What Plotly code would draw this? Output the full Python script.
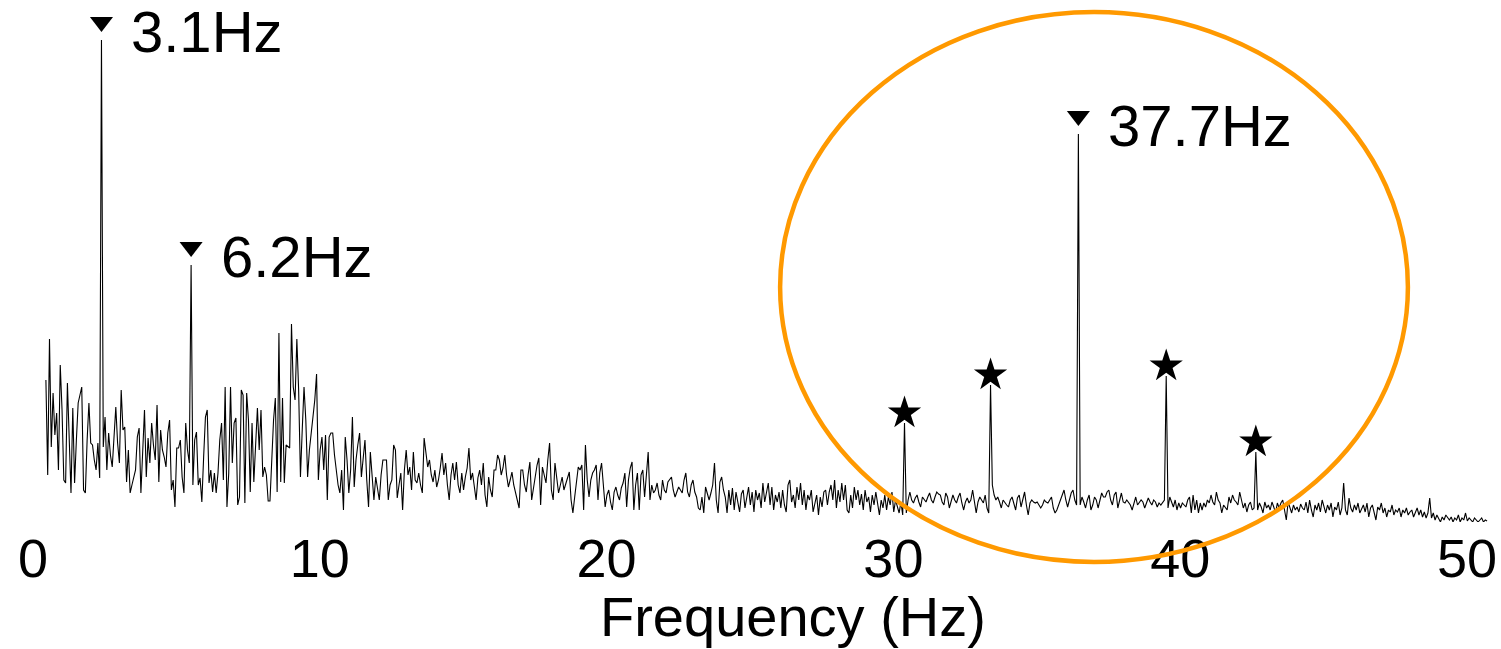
import plotly.graph_objects as go

# ---------------- data (amplitude in arbitrary units, frequency bins in Hz) ----------------
f_start = 0.45
f_step = 0.0625

amp_seg1 = [150, 55, 191, 83, 137, 95, 117, 60, 165, 120,
            50, 47, 147, 90, 37, 122, 47, 90, 127, 135,
            143, 40, 37, 90, 127, 87, 85, 70, 60, 87,
            52, 490, 83, 113, 60, 97, 75, 63, 100, 123,
            87, 67, 140, 100, 103, 48, 80, 37, 45, 52,
            60, 93, 102, 37, 80, 120, 53, 92, 67, 107,
            85, 70, 125, 48, 100, 80, 73, 63, 97, 110,
            40, 50, 23, 82, 82, 90, 53, 37, 107, 80,
            67, 265, 45, 90, 98, 45, 52, 28, 73, 113,
            120, 47, 60, 38, 57, 37, 57, 90, 107, 50]
amp_seg2 = [143, 23, 57, 143, 67, 107, 112, 25, 33, 140,
            135, 27, 137, 110, 38, 107, 48, 90, 122, 80,
            120, 53, 63, 55, 29, 29, 73, 110, 132, 38,
            197, 48, 132, 47, 85, 83, 82, 206, 143, 130,
            191, 140, 53, 100, 143, 110, 53, 80, 95, 110,
            130, 156, 50, 80, 93, 60, 95, 30, 93, 97,
            97, 75, 60, 45, 37, 60, 20, 93, 70, 37,
            60, 113, 43, 70, 85, 97, 53, 70, 90, 50,
            23, 78, 55, 30, 53, 40, 30, 55, 70, 70,
            70, 30, 45, 50, 85, 80, 32, 45, 57, 20]
amp_seg3 = [60, 80, 55, 63, 40, 78, 50, 47, 57, 45,
            37, 92, 75, 63, 70, 55, 48, 60, 43, 50,
            62, 77, 55, 67, 45, 30, 55, 67, 50, 68,
            45, 37, 57, 40, 53, 62, 82, 50, 57, 40,
            30, 52, 60, 45, 67, 35, 23, 53, 40, 33,
            60, 60, 75, 70, 55, 62, 75, 55, 43, 50,
            58, 45, 37, 30, 22, 60, 60, 45, 38, 55,
            68, 30, 42, 50, 65, 72, 25, 63, 55, 47,
            70, 87, 40, 30, 67, 50, 37, 45, 53, 40,
            47, 52, 58, 30, 17, 33, 48, 63, 60, 65,
            20, 85, 50, 33, 50, 57, 60, 65, 30]
amp_seg4 = [57, 67, 45, 23, 35, 40, 28, 20, 38, 43,
            35, 30, 42, 47, 57, 23, 50, 62, 68, 20,
            45, 57, 20, 55, 60, 33, 55, 78, 30, 45,
            37, 40, 47, 35, 30, 50, 40, 37, 48, 50,
            53, 40, 33, 38, 43, 40, 37, 50, 57, 38,
            33, 45, 50, 38, 33, 22, 20, 33, 17, 43,
            35, 30, 37, 45, 67, 30, 17, 48, 53, 40,
            33, 17, 40, 25, 42, 20, 38, 28, 18, 36,
            40, 22, 33, 43, 25, 38, 18, 40, 30, 37,
            22, 47, 28, 38, 47, 25, 43, 20, 35, 28,
            38, 22, 40, 25, 18, 45, 50, 28, 35, 22,
            43, 30, 47, 25, 40, 20, 35, 30, 40, 18,
            27, 35, 15, 33, 23, 38, 40, 25, 38, 45,
            30, 50, 22, 40, 28, 47, 30, 45, 20, 17,
            35, 22, 43, 30, 40, 25, 36, 20, 40, 28,
            33, 18, 35, 25, 38, 27, 15, 30, 22, 35,
            20, 33, 25, 38, 18, 30, 22, 17, 28, 15]
amp_seg5 = [107,
            17, 30, 38, 30, 27, 32, 35, 28, 23, 33,
            30, 28, 33, 37, 30, 27, 33, 38, 36, 35,
            28, 25, 37, 33, 22, 30, 35, 30, 27, 33,
            37, 27, 20, 28, 32, 27, 30, 40, 30, 17,
            28, 33, 30, 27, 35, 22, 17,
            145,
            45, 35, 30, 33, 28, 22, 30, 27, 25, 23,
            30, 33, 25, 20, 32, 35, 23, 30, 38, 25,
            15, 27, 30, 28, 27, 28, 25, 22, 25, 30,
            28, 27, 30, 33, 22, 17, 20, 25, 30, 33,
            40, 30, 23, 30, 37, 40, 30, 25,
            396]
amp_seg6 = [25, 33, 28, 22, 30, 35, 20, 25, 33, 30,
            22, 30, 37, 33, 33, 38, 40, 30, 25, 35,
            38, 22, 30, 37, 28, 27, 30, 28, 25, 20,
            28, 33, 25, 27, 30, 28, 22, 27, 32, 28,
            25, 30, 28, 23, 27, 25, 28, 30,
            154,
            22, 33, 27, 23, 30, 20, 27, 22, 27, 25,
            23, 30, 33, 17, 35, 20, 30, 17, 27, 20,
            27, 23, 30, 27, 35, 28, 25, 38, 30, 27,
            17, 25, 23, 20, 33, 27, 35, 30, 28, 25,
            38, 30, 22, 27, 18, 25, 28, 20, 22,
            78]
amp_seg7 = [20, 27, 23, 17, 28, 22, 25, 20, 28, 23,
            17, 27, 22, 27, 30, 20, 10, 28, 22, 17,
            25, 20, 23, 18, 26, 22, 20, 28, 17, 30,
            20, 13, 25, 20, 27, 18, 30, 22, 17, 25,
            20, 27, 13, 23, 20, 28, 15, 22,
            47,
            20, 15, 32, 22, 18, 25, 20, 27, 17, 22, 25,
            18, 27, 13, 22, 25, 17, 10, 23, 20, 27,
            17, 22, 13, 20, 18, 25, 15, 20, 18, 22,
            13, 20, 17, 22, 15, 18, 20, 13, 17, 22,
            15, 20, 13, 18, 12, 17,
            32,
            12, 17, 10, 15, 12, 8, 13, 10, 15, 12, 10, 13, 8,
            12, 10, 15, 8, 12, 10, 17, 9, 12, 10,
            8, 12, 10, 8, 10, 12, 8, 10, 9]

amplitude = amp_seg1 + amp_seg2 + amp_seg3 + amp_seg4 + amp_seg5 + amp_seg6 + amp_seg7
freq = [f_start + f_step * i for i in range(len(amplitude))]

# labelled peaks (bin indices) and their labels, starred peaks
labelled_bins = [31, 81, 576]
labelled_text = ["3.1Hz", "6.2Hz", "37.7Hz"]
starred_bins = [479, 527, 625, 675]

# highlighted region (Hz, amplitude units)
ellipse_f = [26.05, 47.94]
ellipse_a = [-32, 518]

tick_vals = [0, 10, 20, 30, 40, 50]

# ---------------- figure ----------------
X_RANGE = [-1.1506, 51.186]
Y_RANGE = [8, 530]
FONT = "Liberation Sans, Arial, Helvetica, sans-serif"

fig = go.Figure()
fig.add_trace(go.Scatter(x=freq, y=amplitude, mode="lines", cliponaxis=False,
                         line=dict(color="black", width=1.1), hoverinfo="skip"))

tri_x = [freq[b] for b in labelled_bins]
tri_y = [amplitude[b] + 18 for b in labelled_bins]
fig.add_trace(go.Scatter(x=tri_x, y=tri_y, mode="markers",
                         marker=dict(symbol="triangle-down", size=20, color="black",
                                     line=dict(width=0))))
star_x = [freq[b] for b in starred_bins]
star_y = [amplitude[b] + 10 for b in starred_bins]
fig.add_trace(go.Scatter(x=star_x, y=star_y, mode="markers",
                         marker=dict(symbol="star", size=25, color="black",
                                     line=dict(width=0))))

for x, y, t in zip(tri_x, tri_y, labelled_text):
    fig.add_annotation(x=x, y=y, text=t, showarrow=False, xanchor="left", yanchor="middle",
                       xshift=28, yshift=-9, font=dict(family=FONT, size=58, color="black"))

def px_(f):
    return (f - X_RANGE[0]) / (X_RANGE[1] - X_RANGE[0])

def py_(a):
    return (a - Y_RANGE[0]) / (Y_RANGE[1] - Y_RANGE[0])

fig.add_shape(type="circle", xref="paper", yref="paper",
              x0=px_(ellipse_f[0]), x1=px_(ellipse_f[1]),
              y0=py_(ellipse_a[0]), y1=py_(ellipse_a[1]),
              line=dict(color="rgb(255,153,0)", width=4.5), layer="above")

# axis title, centred at 616 px from the top
fig.add_annotation(x=26.5, xref="x", y=py_(530 - 616), yref="paper", text="Frequency (Hz)",
                   showarrow=False, xanchor="center", yanchor="middle",
                   font=dict(family=FONT, size=56, color="black"))

fig.update_layout(
    width=1501, height=649, autosize=False,
    margin=dict(l=0, r=0, t=0, b=127, pad=0),
    paper_bgcolor="white", plot_bgcolor="white",
    showlegend=False,
    xaxis=dict(range=X_RANGE, tickvals=tick_vals, ticktext=[str(v) for v in tick_vals],
               showgrid=False, zeroline=False, showline=False, ticks="",
               tickfont=dict(family=FONT, size=54, color="black"), automargin=False),
    yaxis=dict(range=Y_RANGE, visible=False, showgrid=False, zeroline=False),
)

fig.write_html("out.html", config={"displayModeBar": False})
